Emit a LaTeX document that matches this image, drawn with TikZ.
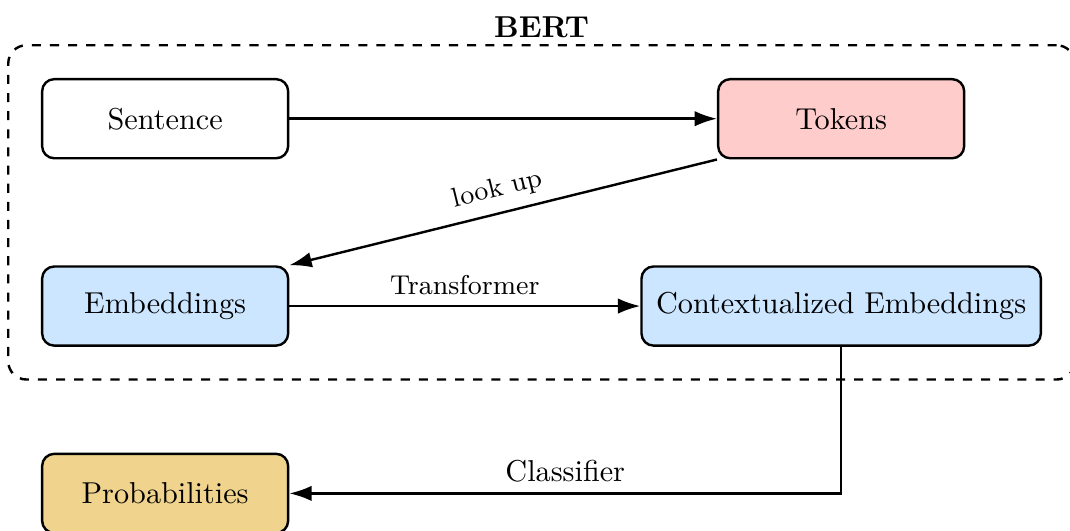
\documentclass[tikz,border=0pt]{standalone}
\usepackage{tikz}
\usetikzlibrary{arrows.meta, positioning, fit}

\definecolor{tokpink}{RGB}{255,204,204}
\definecolor{embblue}{RGB}{204,230,255}
\definecolor{probtan}{RGB}{240,212,142}

\begin{document}
\begin{tikzpicture}[
		box/.style={draw, thick, rounded corners=4pt, minimum width=2.86cm, minimum height=0.92cm, inner xsep=0.17cm, align=center},
		pfeil/.style={thick, -{Latex[length=2.6mm, width=1.8mm]}},
		node distance=1.23cm
	]
			% Rahmen des Bildes
			\useasboundingbox (0,0) rectangle (12.44,-6.17);
			
			% Bloecke
			\node[box] (sent) at (1.92,-1.38) {Sentence};
			\node[box, fill=embblue, below=of sent] (emb) {Embeddings};
			\node[box, fill=embblue, right=4.08cm of emb] (ctx) {Contextualized Embeddings};
			\node[box, fill=tokpink, above=of ctx] (tok) {Tokens};
			\node[box, fill=probtan, below=of emb] (prob) {Probabilities};
			
			% BERT-Rahmen
			\node[draw, thick, dashed, rounded corners=6pt, inner sep=0.38cm, fit=(sent) (tok) (emb) (ctx)] (bert) {};
			\node[above, font=\bfseries, inner sep=2pt] at (bert.north) {BERT};
			
			% Pfeile
			\draw[pfeil] (sent) -- (tok);
			\draw[pfeil] (tok.south west) -- node[above, sloped, font=\small] {look up} (emb.north east);
			\draw[pfeil] (emb) -- node[above, font=\small] {Transformer} (ctx);
			\draw[pfeil] (ctx.south) |- node[pos=0.75, above] {Classifier} (prob.east);
		\end{tikzpicture}
\end{document}
